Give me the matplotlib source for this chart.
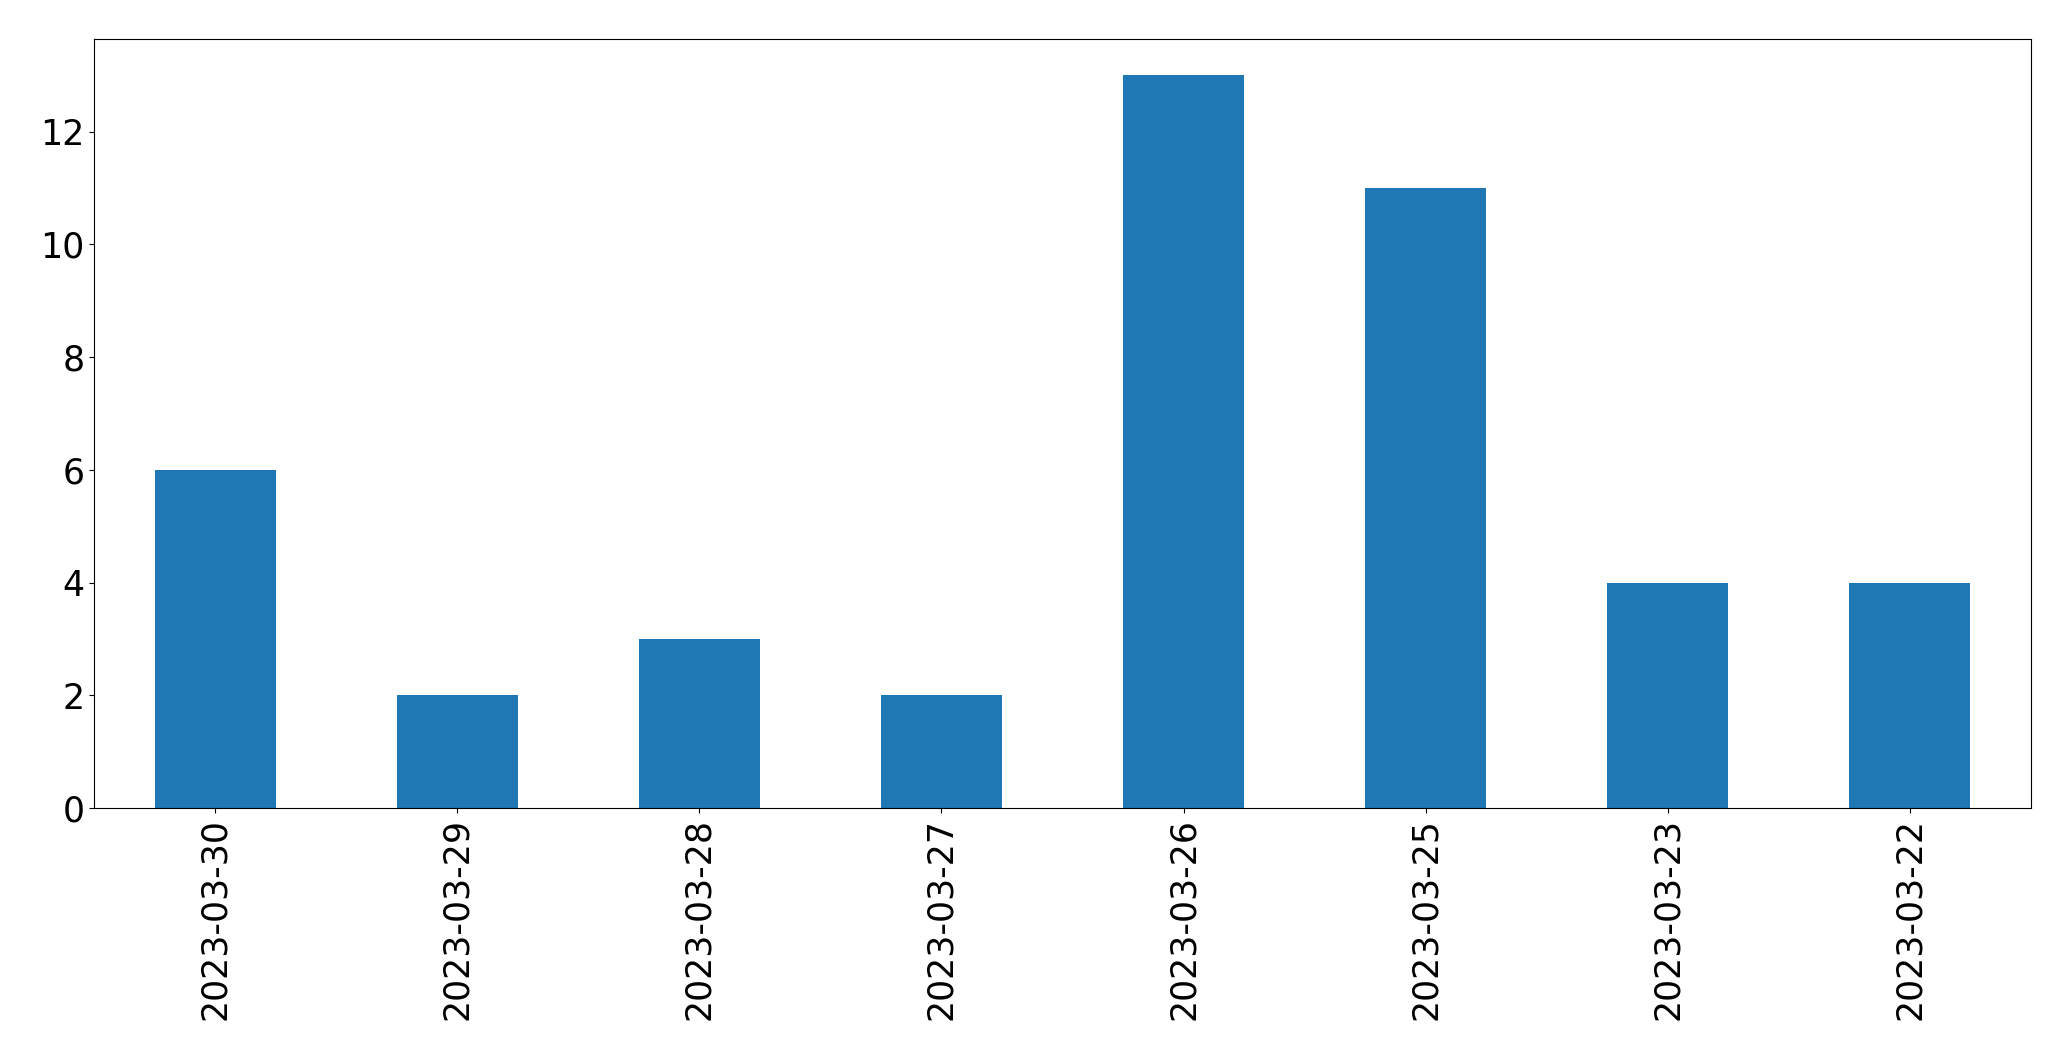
import matplotlib
matplotlib.use("Agg")
import matplotlib.pyplot as plt

dates = ["2023-03-30", "2023-03-29", "2023-03-28", "2023-03-27",
         "2023-03-26", "2023-03-25", "2023-03-23", "2023-03-22"]
counts = [6, 2, 3, 2, 13, 11, 4, 4]

fig = plt.figure(figsize=(20.71, 10.61), dpi=100)
ax = fig.add_axes([0.0454, 0.2385, 0.9353, 0.7250])
x = list(range(len(dates)))
ax.bar(x, counts, width=0.5, color="#1f77b4")
ax.set_xticks(x)
ax.set_xticklabels(dates, rotation=90)
ax.set_xlim(-0.5, len(dates) - 0.5)
ax.tick_params(labelsize=25)
fig.savefig("out.png", dpi=100)
